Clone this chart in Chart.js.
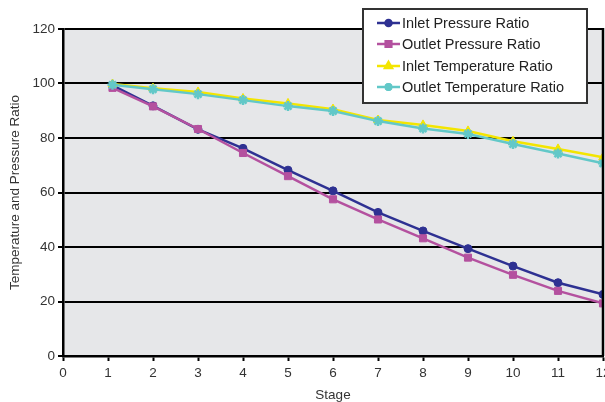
<!DOCTYPE html>
<html>
<head>
<meta charset="utf-8">
<script src="https://cdn.jsdelivr.net/npm/chart.js@4.4.0/dist/chart.umd.min.js"></script>
<style>
    html, body { margin: 0; padding: 0; background: #fff; }
    #wrap { width: 605px; height: 402px; position: relative; }
</style>
</head>
<body>
<div id="wrap"><canvas id="stageChart"></canvas></div>
<script>
const stages = [1.1, 2, 3, 4, 5, 6, 7, 8, 9, 10, 11, 12];
const inletPressure = [99.3, 91.8, 83.2, 76.2, 68.2, 60.6, 52.7, 45.9, 39.4, 33.0, 26.9, 22.6];
const outletPressure = [98.4, 91.6, 83.3, 74.5, 66.0, 57.5, 50.1, 43.2, 36.1, 29.8, 23.9, 19.3];
const inletTemp = [99.8, 98.3, 96.9, 94.5, 92.7, 90.6, 86.6, 84.8, 82.6, 78.8, 76.0, 72.9];
const outletTemp = [99.5, 97.9, 96.1, 93.9, 91.7, 89.9, 86.2, 83.5, 81.5, 77.8, 74.3, 70.7];
const yTicks = [0, 20, 40, 60, 80, 100, 120];

const toPoints = vals => vals.map((v, i) => ({ x: stages[i], y: v }));
const FONT = '"Liberation Sans", Arial, sans-serif';

// gray plot background + right border
const plotFrame = {
    id: 'plotFrame',
    beforeDraw(chart) {
        const a = chart.chartArea, ctx = chart.ctx;
        ctx.save();
        ctx.fillStyle = '#e6e7e9';
        ctx.fillRect(a.left, a.top, a.right - a.left, a.bottom - a.top);
        ctx.restore();
    },
    afterDraw(chart) {
        const a = chart.chartArea, ctx = chart.ctx;
        ctx.save();
        ctx.strokeStyle = '#000';
        ctx.lineWidth = 2.5;
        ctx.beginPath();
        ctx.moveTo(a.right, a.top - 1);
        ctx.lineTo(a.right, a.bottom);
        ctx.stroke();
        ctx.restore();
    }
};

// boxed legend inside the plot, top right
const boxLegend = {
    id: 'boxLegend',
    afterDraw(chart) {
        const ctx = chart.ctx;
        const bx = 363, by = 9, bw = 224, bh = 94;
        ctx.save();
        ctx.fillStyle = '#fff';
        ctx.fillRect(bx, by, bw, bh);
        ctx.strokeStyle = '#333';
        ctx.lineWidth = 2;
        ctx.strokeRect(bx, by, bw, bh);
        const rows = [23, 44, 66, 87];
        chart.data.datasets.forEach((ds, i) => {
            const y = rows[i];
            ctx.strokeStyle = ds.borderColor;
            ctx.lineWidth = 2.5;
            ctx.beginPath();
            ctx.moveTo(377, y);
            ctx.lineTo(400, y);
            ctx.stroke();
            Chart.helpers.drawPoint(ctx, {
                pointStyle: ds.pointStyle,
                radius: ds.pointRadius - 1,
                borderWidth: ds.pointBorderWidth
            }, 388.5, y);
            ctx.fillStyle = ds.borderColor;
            ctx.strokeStyle = ds.borderColor;
            ctx.lineWidth = ds.pointBorderWidth;
            ctx.fill();
            ctx.stroke();
            ctx.fillStyle = '#222';
            ctx.font = '14.5px ' + FONT;
            ctx.textBaseline = 'middle';
            ctx.fillText(ds.label, 402, y + 0.5);
        });
        ctx.restore();
    }
};

new Chart(document.getElementById('stageChart'), {
    type: 'line',
    data: {
        datasets: [
            {
                label: 'Inlet Pressure Ratio',
                data: toPoints(inletPressure),
                borderColor: '#2e3192',
                backgroundColor: '#2e3192',
                pointStyle: 'circle',
                pointRadius: 4,
                pointBorderWidth: 1,
                borderWidth: 2.5,
                order: 4
            },
            {
                label: 'Outlet Pressure Ratio',
                data: toPoints(outletPressure),
                borderColor: '#b4519f',
                backgroundColor: '#b4519f',
                pointStyle: 'rect',
                pointRadius: 5,
                pointBorderWidth: 1,
                borderWidth: 2.5,
                order: 3
            },
            {
                label: 'Inlet Temperature Ratio',
                data: toPoints(inletTemp),
                borderColor: '#f3e500',
                backgroundColor: '#f3e500',
                pointStyle: 'triangle',
                pointRadius: 5,
                pointBorderWidth: 1,
                borderWidth: 2.5,
                order: 2
            },
            {
                label: 'Outlet Temperature Ratio',
                data: toPoints(outletTemp),
                borderColor: '#62c8c8',
                backgroundColor: '#62c8c8',
                pointStyle: 'star',
                pointRadius: 5,
                pointBorderWidth: 2.5,
                borderWidth: 2.5,
                order: 1
            }
        ]
    },
    options: {
        responsive: true,
        maintainAspectRatio: false,
        animation: false,
        layout: {
            autoPadding: false,
            padding: { top: 29, right: 2, left: 0, bottom: 0 }
        },
        plugins: {
            legend: { display: false },
            tooltip: { enabled: false }
        },
        scales: {
            x: {
                type: 'linear',
                min: 0,
                max: 12,
                afterFit: scale => {
                    scale.height = 46;
                    scale.paddingLeft = 0;
                    scale.paddingRight = 0;
                },
                ticks: {
                    stepSize: 1,
                    autoSkip: false,
                    maxRotation: 0,
                    padding: 4,
                    color: '#333',
                    font: { family: FONT, size: 13.5 }
                },
                grid: {
                    drawOnChartArea: false,
                    drawTicks: true,
                    tickLength: 5,
                    tickWidth: 2,
                    tickColor: '#000'
                },
                border: { color: '#000', width: 2.5 },
                title: {
                    display: true,
                    text: 'Stage',
                    color: '#333',
                    padding: { top: 0, bottom: -1 },
                    font: { family: FONT, size: 13.5 }
                }
            },
            y: {
                min: 0,
                max: 120,
                afterFit: scale => {
                    scale.width = 63;
                    scale.paddingTop = 0;
                    scale.paddingBottom = 0;
                },
                afterBuildTicks: scale => { scale.ticks = yTicks.map(v => ({ value: v })); },
                ticks: {
                    padding: 3,
                    color: '#333',
                    font: { family: FONT, size: 13.5 }
                },
                grid: {
                    color: '#000',
                    lineWidth: 2,
                    drawTicks: true,
                    tickLength: 5
                },
                border: { color: '#000', width: 2.5 },
                title: {
                    display: true,
                    text: 'Temperature and Pressure Ratio',
                    color: '#333',
                    padding: { top: 7, bottom: 0 },
                    font: { family: FONT, size: 13.5 }
                }
            }
        }
    },
    plugins: [plotFrame, boxLegend]
});
</script>
</body>
</html>
